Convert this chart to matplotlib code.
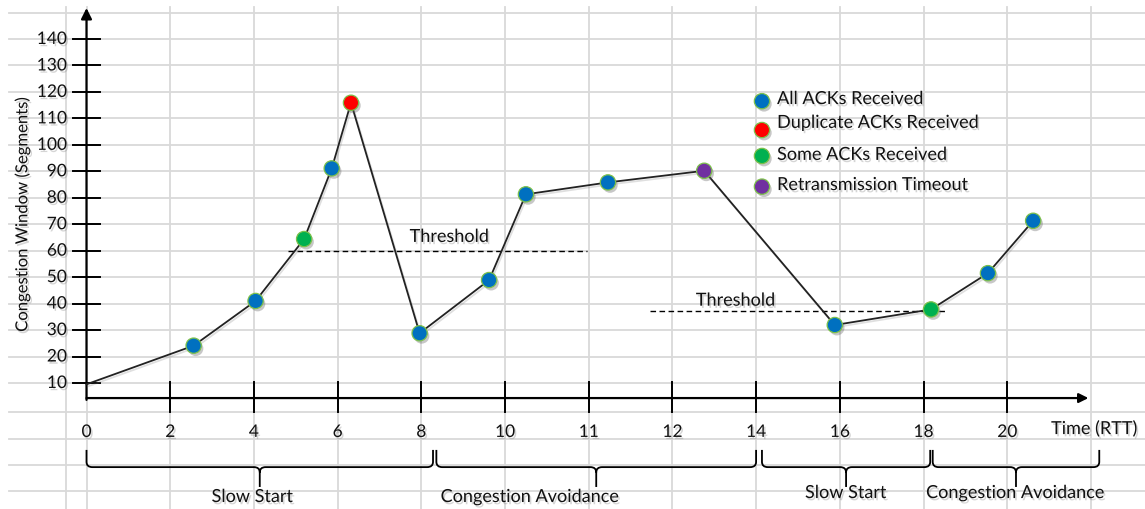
import numpy as np
import matplotlib
matplotlib.use("Agg")
import matplotlib.pyplot as plt
from matplotlib.path import Path
from matplotlib.patches import PathPatch
import matplotlib.patheffects as pe

# ---------------- data ----------------
x_tick_labels = ["0", "2", "4", "6", "8", "10", "11", "12", "14", "16", "18", "20"]
y_tick_values = [10, 20, 30, 40, 50, 60, 70, 80, 90, 100, 110, 120, 130, 140]

# congestion window path (x in tick-slot units along the time axis)
cwnd_x = [0.0, 1.28, 2.02, 2.60, 2.93, 3.16, 3.98, 4.81, 5.25, 6.23, 7.38, 8.94, 10.09, 10.77, 11.31]
cwnd_y = [9.5, 24.1, 41.0, 64.4, 91.1, 115.9, 28.8, 48.9, 81.3, 85.8, 90.2, 31.9, 37.8, 51.5, 71.3]
cwnd_event = [None, "all", "all", "some", "all", "dup", "all", "all", "all", "all",
              "rto", "all", "some", "all", "all"]

event_keys = ["all", "dup", "some", "rto"]
event_labels = ["All ACKs Received", "Duplicate ACKs Received",
                "Some ACKs Received", "Retransmission Timeout"]
event_colors = ["#0070C0", "#FF0000", "#00B050", "#7030A0"]

threshold_values = [60.0, 37.2]
threshold_starts = [2.41, 6.73]
threshold_ends = [5.98, 10.26]

phase_names = ["Slow Start", "Congestion Avoidance", "Slow Start", "Congestion Avoidance"]
phase_starts = [0.0, 4.18, 8.07, 10.11]
phase_ends = [4.14, 8.00, 10.08, 12.10]
phase_label_x = [1.98, 5.29, 9.07, 11.09]

# ---------------- figure ----------------
W, H = 1145, 509
fig = plt.figure(figsize=(W / 100, H / 100), dpi=100)
ax = fig.add_axes([0, 0, 1, 1])
ax.set_axis_off()

# pixel-based scales: slot i -> 86.5 + 83.7*i ; value v -> 39 + (140-v)*2.646
px0, pxs = 86.5, 83.7
py140, pys = 39.0, 2.646
ax.set_xlim((0 - px0) / pxs, (W - px0) / pxs)
ax.set_ylim(140 - (H - py140) / pys, 140 + py140 / pys)

FONT = ["Lato", "DejaVu Sans"]
TXT = "#111111"
shadow = [pe.withSimplePatchShadow(offset=(1.2, -1.6), shadow_rgbFace="#7f7f7f", alpha=0.32)]

# spreadsheet-like grid background
grid_c = "#D9D9D9"
hgrid = [150, 140, 130, 120, 110, 100, 90, 80, 70, 60, 50, 40, 30, 20, 10, -1, -11, -21, -31]
vgrid = [-0.24] + list(range(0, 13))
y_top_grid = 140 + (py140 - 7) / pys
x_left_grid = (9 - px0) / pxs
for v in hgrid:
    ax.plot([x_left_grid, 20], [v, v], color=grid_c, lw=1.3, zorder=0)
for i in vgrid:
    ax.plot([i, i], [y_top_grid, -60], color=grid_c, lw=1.3, zorder=0)

# axes with arrows
axis_y = 4.3
ax.annotate("", xy=(11.97, axis_y), xytext=(0.0, axis_y),
            arrowprops=dict(arrowstyle="-|>", color="black", lw=1.6,
                            mutation_scale=14, shrinkA=0, shrinkB=0), zorder=3)
ax.annotate("", xy=(0.0, 151.7), xytext=(0.0, 3.6),
            arrowprops=dict(arrowstyle="-|>", color="black", lw=1.6,
                            mutation_scale=16, shrinkA=0, shrinkB=0), zorder=3)

# y ticks and labels
for v in y_tick_values:
    ax.plot([-0.16, 0.16], [v, v], color="black", lw=1.4, zorder=3)
    ax.text(-0.235, v, str(v), ha="right", va="center", fontsize=12.5,
            family=FONT, color=TXT, path_effects=shadow)

# x ticks and labels
for i, lab in enumerate(x_tick_labels):
    if i > 0:
        ax.plot([i, i], [10.4, -0.9], color="black", lw=1.4, zorder=3)
    ax.text(i, -8.5, lab, ha="center", va="center", fontsize=12.5,
            family=FONT, color=TXT, path_effects=shadow)

ax.text(12.55, -7.4, "Time (RTT)", ha="right", va="center", fontsize=13,
        family=FONT, color=TXT, path_effects=shadow)
ax.text(-0.77, 73.5, "Congestion Window (Segments)", rotation=90, ha="center",
        va="center", fontsize=12, family=FONT, color=TXT, path_effects=shadow)

# thresholds
for v, s, e in zip(threshold_values, threshold_starts, threshold_ends):
    ax.plot([s, e], [v, v], color="black", lw=1.0, ls=(0, (4, 2.5)), zorder=2)
ax.text(3.86, 65.2, "Threshold", ha="left", va="center", fontsize=13,
        family=FONT, color=TXT, path_effects=shadow)
ax.text(7.28, 41.1, "Threshold", ha="left", va="center", fontsize=13,
        family=FONT, color=TXT, path_effects=shadow)

# congestion window line
ax.plot(cwnd_x, cwnd_y, color="#222222", lw=1.3, zorder=4,
        path_effects=[pe.SimpleLineShadow(offset=(1, -1.5), shadow_color="#808080", alpha=0.25),
                      pe.Normal()])

# event markers
marker_fx = [pe.SimplePatchShadow(offset=(1.5, -2), shadow_rgbFace="#606060", alpha=0.35), pe.Normal()]
for key, col in zip(event_keys, event_colors):
    xs = [x for x, e in zip(cwnd_x, cwnd_event) if e == key]
    ys = [y for y, e in zip(cwnd_y, cwnd_event) if e == key]
    ax.plot(xs, ys, ls="none", marker="o", ms=11, mfc=col, mec="#7CC04B",
            mew=0.9, zorder=5, path_effects=marker_fx)

# legend (manual)
legend_marker_y = [116.5, 105.6, 95.8, 84.2]
legend_text_y = [117.3, 108.3, 96.2, 84.8]
for lab, col, my, ty in zip(event_labels, event_colors, legend_marker_y, legend_text_y):
    ax.plot([8.07], [my], ls="none", marker="o", ms=11, mfc=col, mec="#7CC04B",
            mew=0.9, zorder=5, path_effects=marker_fx)
    ax.text(8.25, ty, lab, ha="left", va="center", fontsize=13, family=FONT,
            color=TXT, path_effects=shadow)

# curly braces for phases
y_end, y_bar, y_tip = -15.3, -21.8, -29.3
rx, ry = 0.07, 2.0


def brace(x0, x1):
    xm = 0.5 * (x0 + x1)
    verts = [(x0, y_end), (x0, y_bar + ry), (x0, y_bar), (x0 + rx, y_bar),
             (xm - rx, y_bar), (xm, y_bar), (xm, y_bar - ry), (xm, y_tip),
             (xm, y_bar - ry), (xm, y_bar), (xm + rx, y_bar),
             (x1 - rx, y_bar), (x1, y_bar), (x1, y_bar + ry), (x1, y_end)]
    codes = [Path.MOVETO, Path.LINETO, Path.CURVE3, Path.CURVE3,
             Path.LINETO, Path.CURVE3, Path.CURVE3, Path.LINETO,
             Path.MOVETO, Path.CURVE3, Path.CURVE3,
             Path.LINETO, Path.CURVE3, Path.CURVE3, Path.LINETO]
    ax.add_patch(PathPatch(Path(verts, codes), fill=False, edgecolor="black",
                           lw=1.3, zorder=3))


label_y = [-33.1, -33.1, -31.6, -31.6]
for name, s, e, lx, ly in zip(phase_names, phase_starts, phase_ends, phase_label_x, label_y):
    brace(s, e)
    ax.text(lx, ly, name, ha="center", va="center", fontsize=13, family=FONT,
            color=TXT, path_effects=shadow, zorder=4)

fig.savefig("out.png", dpi=100, facecolor="white")
